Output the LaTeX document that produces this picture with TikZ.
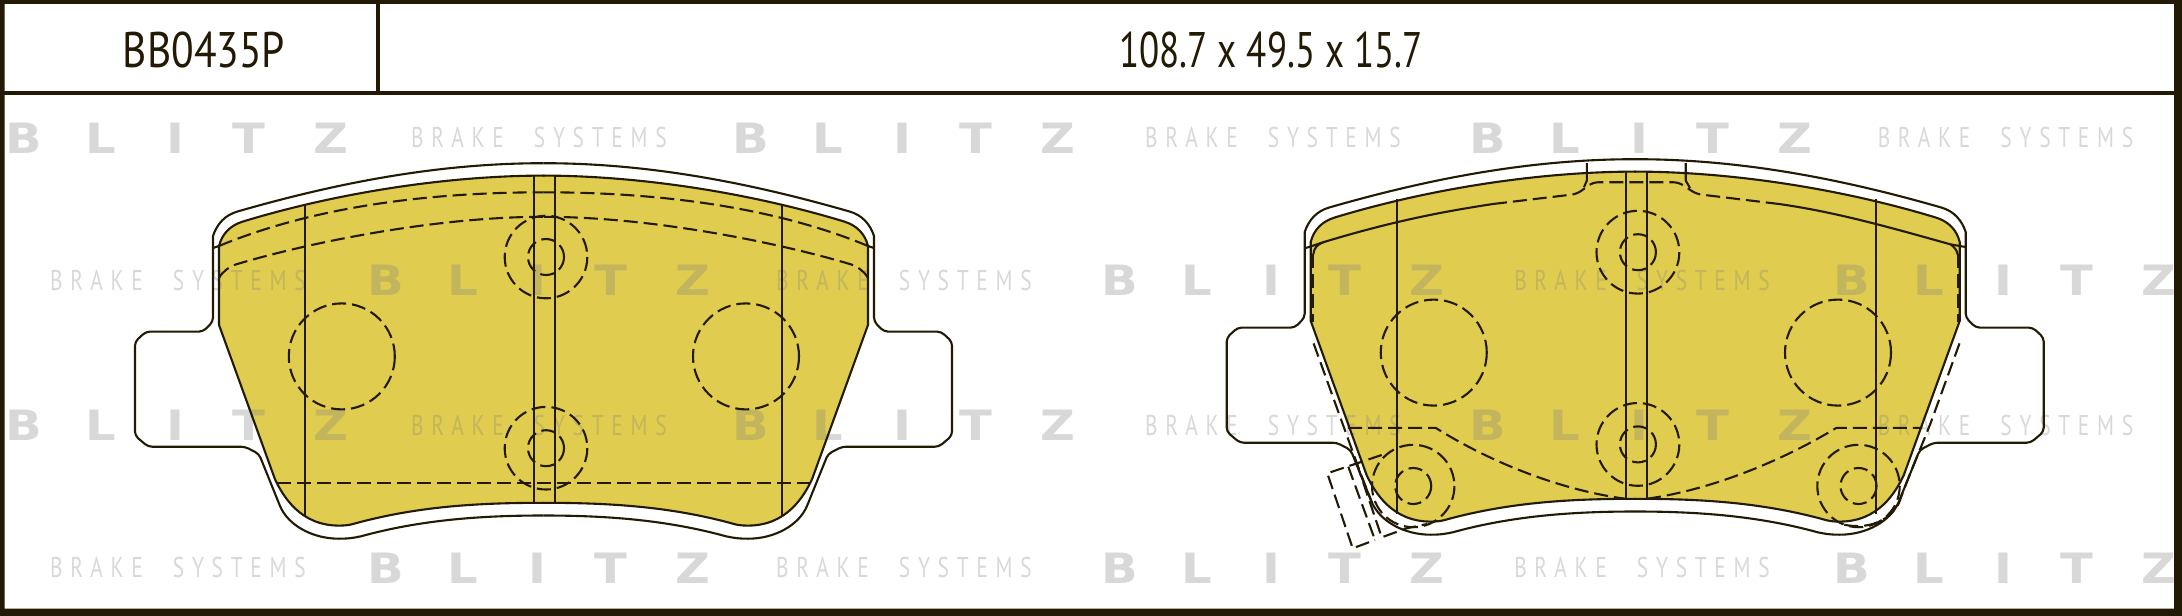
\documentclass[tikz,border=0pt]{standalone}
\usepackage{fontspec}
\newfontfamily\labelfont{PT Sans}
\newfontfamily\wmfont[LetterSpace=36]{PT Sans}
\newfontfamily\blitzfont{DejaVu Sans Bold}
\definecolor{ink}{HTML}{231A05}
\definecolor{padyellow}{HTML}{E0CC4E}
\definecolor{wmgray}{RGB}{128,128,128}
\tikzset{
  solidline/.style={draw=ink,line width=2.1bp,line join=round},
  dashline/.style={draw=ink,line width=2.1bp,dash pattern=on 14bp off 6bp},
  headtext/.style={text=ink,inner sep=0,font=\labelfont\fontsize{50bp}{50bp}\selectfont,anchor=base},
  blitzletter/.style={text=wmgray,text opacity=.3,inner sep=0,anchor=base,xscale=1.15,font=\blitzfont\fontsize{41.8bp}{42bp}\selectfont},
  braketext/.style={text=wmgray,text opacity=.3,inner sep=0,anchor=base,xscale=.75,font=\wmfont\fontsize{28.6bp}{29bp}\selectfont},
}
\newcommand{\mirrored}[1]{#1\begin{scope}[shift={(1087,0)},xscale=-1]#1\end{scope}}
\newcommand{\padedge}{%
  (544.5,175.6) .. controls (450,175.6) and (340,192) .. (243,221.5) .. controls (230,225.5) and (222,234) .. (219,246)
    -- (219,324.9) -- (275,479.3) .. controls (283,496) and (300,525.6) .. (339,525.6) .. controls (349,525.6) and (353,524) .. (357,522.9) .. controls (420,506) and (480,502.8) .. (544.5,502.8)}
\newcommand{\padfillhalf}{\fill[padyellow] \padedge -- cycle;}
\newcommand{\padstrokehalf}{%
  \draw[solidline] (543.5,163.2) .. controls (440,163.2) and (340,182) .. (237.5,211.5) .. controls (225,215) and (217,224) .. (213,236)
    [rounded corners=4bp] -- (213,321.5) -- (203,331.6) -- (146,331.6) -- (135,341.7) -- (135,435.6) -- (148,446.7) -- (245,446.7) -- (259,454)
    [sharp corners] -- (280,506) .. controls (288,525) and (312,538.7) .. (339,538.7) .. controls (350,538.7) and (355,537.5) .. (361,536.3) .. controls (420,520) and (480,515.5) .. (543.5,515.5);
  \draw[solidline] \padedge;}
\newcommand{\leftcurves}{%
  \draw[solidline] (213,248) -- (219,246);
  \draw[dashline] (219,246) .. controls (320,204) and (440,192.3) .. (543.5,192.3);
  \draw[dashline] (219,278) .. controls (223,271) and (229,267) .. (235.7,264.5) .. controls (300,245) and (430,216.8) .. (543.5,216.8);}
\newcommand{\blitzrow}[2]{%
  \foreach \lx/\lt in {24/B,100.7/L,175/I,249/T,331/Z} {\node[blitzletter] (bl-#1-#2-\lt) at ({\lx+#1},#2) {\lt};}}
\begin{document}
\begin{tikzpicture}[x=1bp,y=-1bp]
\useasboundingbox (0,0) rectangle (2182,616);
\fill[white] (0,0) rectangle (2182,616);
% friction pads
\mirrored{\padfillhalf}
\begin{scope}[shift={(1091.7,-4)}]\mirrored{\padfillhalf}\end{scope}
% watermark
\blitzrow{0}{153.1}\blitzrow{727}{153.1}\blitzrow{1464}{153.1}
\blitzrow{362}{295.4}\blitzrow{1096}{295.4}\blitzrow{1828}{295.4}
\blitzrow{0}{440.7}\blitzrow{727}{440.7}\blitzrow{1464}{440.7}
\blitzrow{362}{583.3}\blitzrow{1096}{583.3}\blitzrow{1828}{583.3}
\foreach \bx/\by [count=\bi] in {539/147.7,1273/147.7,2005.5/147.7,178/290.3,904/290.3,1642/290.3,539/435,1273/435,2005.5/435,178/577.6,904/577.6,1642/577.6}
  {\node[braketext] (brake\bi) at (\bx,\by) {BRAKE\hspace{22bp} SYSTEMS};}
% frame
\fill[ink,even odd rule] (0,0) rectangle (2182,616) (4.5,4) rectangle (2174,608.5);
\fill[ink] (0,91.3) rectangle (2182,95.3);
\fill[ink] (376,0) rectangle (380,93);
\node[headtext,xscale=.83] (code) at (204,68) {BB0435P};
\node[headtext,xscale=.74] (size) at (1271,68) {108.7 x 49.5 x 15.7};
% left pad
\mirrored{\padstrokehalf}
\mirrored{\leftcurves}
\draw[solidline] (304.6,204) -- (304.6,516.9);
\draw[solidline] (782.4,204) -- (782.4,516.9);
\draw[solidline] (534,175.6) -- (534,502.8);
\draw[solidline] (554.6,175.6) -- (554.6,502.8);
\draw[dashline] (277,482.6) -- (812.5,482.6);
\draw[dashline] (341.8,356.4) circle[radius=53];
\draw[dashline] (746,356.4) circle[radius=53];
\draw[dashline] (546,257) circle[radius=41.3];
\draw[dashline] (546,257) circle[radius=18];
\draw[dashline] (546,448.2) circle[radius=41.3];
\draw[dashline] (546,448.2) circle[radius=18];
% right pad
\begin{scope}[shift={(1091.7,-4)}]\mirrored{\padstrokehalf}\end{scope}
\draw[solidline] (1396.8,199) -- (1396.8,513.5);
\draw[solidline] (1875.9,199) -- (1875.9,513.5);
\draw[solidline] (1626,171.5) -- (1626,498.7);
\draw[solidline] (1647,171.5) -- (1647,498.7);
\draw[solidline] (1304.6,248.4) -- (1325,241.7) .. controls (1390,222) and (1440,212) .. (1493,204);
\draw[solidline] (1779,204) .. controls (1835,212) and (1885,226) .. (1950.6,244.4) -- (1965.6,247);
\draw[dashline,rounded corners=5bp] (1493,204) -- (1576.8,194) -- (1593,182.3) -- (1678.6,182.3) -- (1696.4,194) -- (1779,204);
\draw[solidline] (1586.8,163.2) -- (1586.8,180.6) -- (1584,187.3);
\draw[solidline] (1685.7,163.2) -- (1685.7,180.6) -- (1690,188);
\draw[solidline] (1325,241.7) .. controls (1317,244) and (1314,248) .. (1313.3,254.4);
\draw[solidline] (1950.6,244.4) .. controls (1954,247) and (1957,250) .. (1957.6,254.4);
\draw[dashline] (1313.3,254.4) -- (1313.3,321.5);
\draw[dashline] (1957.6,254.4) -- (1957.6,321.5);
\draw[dashline] (1313.6,343.4) -- (1360,472) -- (1372,503);
\draw[dashline] (1959.5,343.4) -- (1931,422) .. controls (1920,450) and (1905,485) .. (1899,503) .. controls (1890,520) and (1870,530) .. (1843.4,524.6);
\draw[dashline] (1348,427.9) -- (1435.7,427.9) .. controls (1490,462) and (1560,490) .. (1625,498.7);
\draw[dashline] (1647,498.7) .. controls (1710,490) and (1780,462) .. (1836.3,427.9) -- (1922,427.9);
\draw[dashline] (1433.75,352.6) circle[radius=53];
\draw[dashline] (1838,352.6) circle[radius=53];
\draw[dashline] (1637.9,252.2) circle[radius=41.4];
\draw[dashline] (1637.9,252.2) circle[radius=18];
\draw[dashline] (1637.9,444.4) circle[radius=41.4];
\draw[dashline] (1637.9,444.4) circle[radius=18];
\draw[dashline] (1413.2,486) circle[radius=41.2];
\draw[dashline] (1413.2,486) circle[radius=18];
\draw[dashline] (1858.5,486) circle[radius=41.2];
\draw[dashline] (1858.5,486) circle[radius=18];
% sensor
\draw[dashline] (1381.7,455) -- (1327.3,473.3) -- (1352.7,548.3) -- (1375,540);
\draw[dashline] (1348.3,466.7) -- (1375,540);
\draw[dashline] (1356.7,463.3) -- (1381.7,537.3) -- (1406.7,528.3) -- (1427,524);
\end{tikzpicture}
\end{document}
